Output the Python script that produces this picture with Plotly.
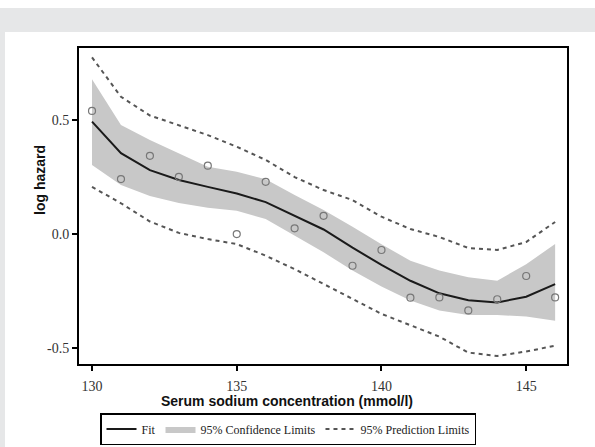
import plotly.graph_objects as go

sodium = [130, 131, 132, 133, 134, 135, 136, 137, 138, 139, 140, 141, 142, 143, 144, 145, 146]
observed = [0.54, 0.241, 0.343, 0.251, 0.30, 0.0, 0.229, 0.025, 0.08, -0.139, -0.07, -0.279, -0.278, -0.335, -0.286, -0.184, -0.278]
fit = [0.493, 0.355, 0.28, 0.237, 0.207, 0.178, 0.14, 0.08, 0.02, -0.06, -0.135, -0.205, -0.26, -0.29, -0.30, -0.275, -0.22]
cl_upper = [0.679, 0.478, 0.412, 0.354, 0.295, 0.273, 0.24, 0.171, 0.105, 0.032, -0.045, -0.117, -0.16, -0.19, -0.205, -0.132, -0.044]
cl_lower = [0.303, 0.215, 0.167, 0.136, 0.115, 0.102, 0.066, -0.007, -0.08, -0.16, -0.23, -0.292, -0.335, -0.355, -0.355, -0.362, -0.38]
pl_upper = [0.775, 0.602, 0.52, 0.478, 0.434, 0.383, 0.325, 0.25, 0.193, 0.149, 0.076, 0.022, -0.013, -0.061, -0.07, -0.035, 0.053]
pl_lower = [0.207, 0.135, 0.055, 0.005, -0.022, -0.044, -0.095, -0.154, -0.219, -0.285, -0.35, -0.40, -0.45, -0.52, -0.535, -0.515, -0.49]

x_ticks = [130, 135, 140, 145]
x_ticklabels = ["130", "135", "140", "145"]
y_ticks = [-0.5, 0.0, 0.5]
y_ticklabels = ["-0.5", "0.0", "0.5"]

serif = "Liberation Serif"
sans = "Liberation Sans"

fig = go.Figure()

# confidence band
fig.add_trace(go.Scatter(x=sodium, y=cl_lower, mode="lines", line=dict(width=0, color="#c8c8c8"),
                         showlegend=False, hoverinfo="skip"))
fig.add_trace(go.Scatter(x=sodium, y=cl_upper, mode="lines", line=dict(width=0, color="#c8c8c8"),
                         fill="tonexty", fillcolor="#c8c8c8", name="95% Confidence Limits", legendrank=2))
# fit
fig.add_trace(go.Scatter(x=sodium, y=fit, mode="lines", line=dict(color="#1a1a1a", width=2),
                         name="Fit", legendrank=1))
# prediction limits
fig.add_trace(go.Scatter(x=sodium, y=pl_upper, mode="lines", line=dict(color="#555555", width=2, dash="4px,4px"),
                         name="95% Prediction Limits", legendrank=3))
fig.add_trace(go.Scatter(x=sodium, y=pl_lower, mode="lines", line=dict(color="#555555", width=2, dash="4px,4px"),
                         showlegend=False))
# observed points
fig.add_trace(go.Scatter(x=sodium, y=observed, mode="markers",
                         marker=dict(symbol="circle-open", size=7, color="#777777", line=dict(width=1.2)),
                         showlegend=False))

W, H = 595, 447
ml, mr, mt, mb = 79, 28, 48, 83
pw, ph = W - ml - mr, H - mt - mb

def px(xp):
    return (xp - ml) / pw

def py(yp):
    return (H - mb - yp) / ph

fig.update_layout(
    width=W, height=H,
    margin=dict(l=ml, r=mr, t=mt, b=mb, pad=0, autoexpand=False),
    paper_bgcolor="white", plot_bgcolor="white",
    shapes=[
        dict(type="rect", xref="paper", yref="paper", x0=px(0), x1=px(W), y0=py(32), y1=py(8),
             fillcolor="#e6e7e8", line=dict(width=0), layer="below"),
        dict(type="rect", xref="paper", yref="paper", x0=px(0), x1=px(5), y0=py(H), y1=py(32),
             fillcolor="#e6e7e8", line=dict(width=0), layer="below"),
    ],
    xaxis=dict(range=[129.55, 146.41], tickvals=x_ticks, ticktext=x_ticklabels,
               showgrid=False, zeroline=False, showline=True, linecolor="black", linewidth=2, mirror=True,
               ticks="outside", ticklen=5, tickwidth=1.5, tickcolor="black", ticklabelstandoff=3,
               tickfont=dict(family=serif, size=14, color="#333333")),
    yaxis=dict(range=[-0.57, 0.816], tickvals=y_ticks, ticktext=y_ticklabels,
               showgrid=False, zeroline=False, showline=True, linecolor="black", linewidth=2, mirror=True,
               ticks="outside", ticklen=5, tickwidth=1.5, tickcolor="black",
               tickfont=dict(family=serif, size=14, color="#333333")),
    legend=dict(orientation="h", x=px(100), xanchor="left", y=py(413), yanchor="top",
                traceorder="normal",
                bordercolor="black", borderwidth=1.5, bgcolor="white",
                font=dict(family=serif, size=12, color="#222222"), itemwidth=30,
                tracegroupgap=0),
    annotations=[
        dict(text="<b>Serum sodium concentration (mmol/l)</b>", xref="paper", yref="paper",
             x=px(287), y=py(401), xanchor="center", yanchor="middle", showarrow=False,
             font=dict(family=sans, size=14, color="#111111")),
        dict(text="<b>log hazard</b>", xref="paper", yref="paper", textangle=-90,
             x=px(40), y=py(180), xanchor="center", yanchor="middle", showarrow=False,
             font=dict(family=sans, size=14, color="#111111")),
    ],
)

fig.write_html("out.html", config={"displayModeBar": False},
               post_script="document.body.style.margin='0';")
